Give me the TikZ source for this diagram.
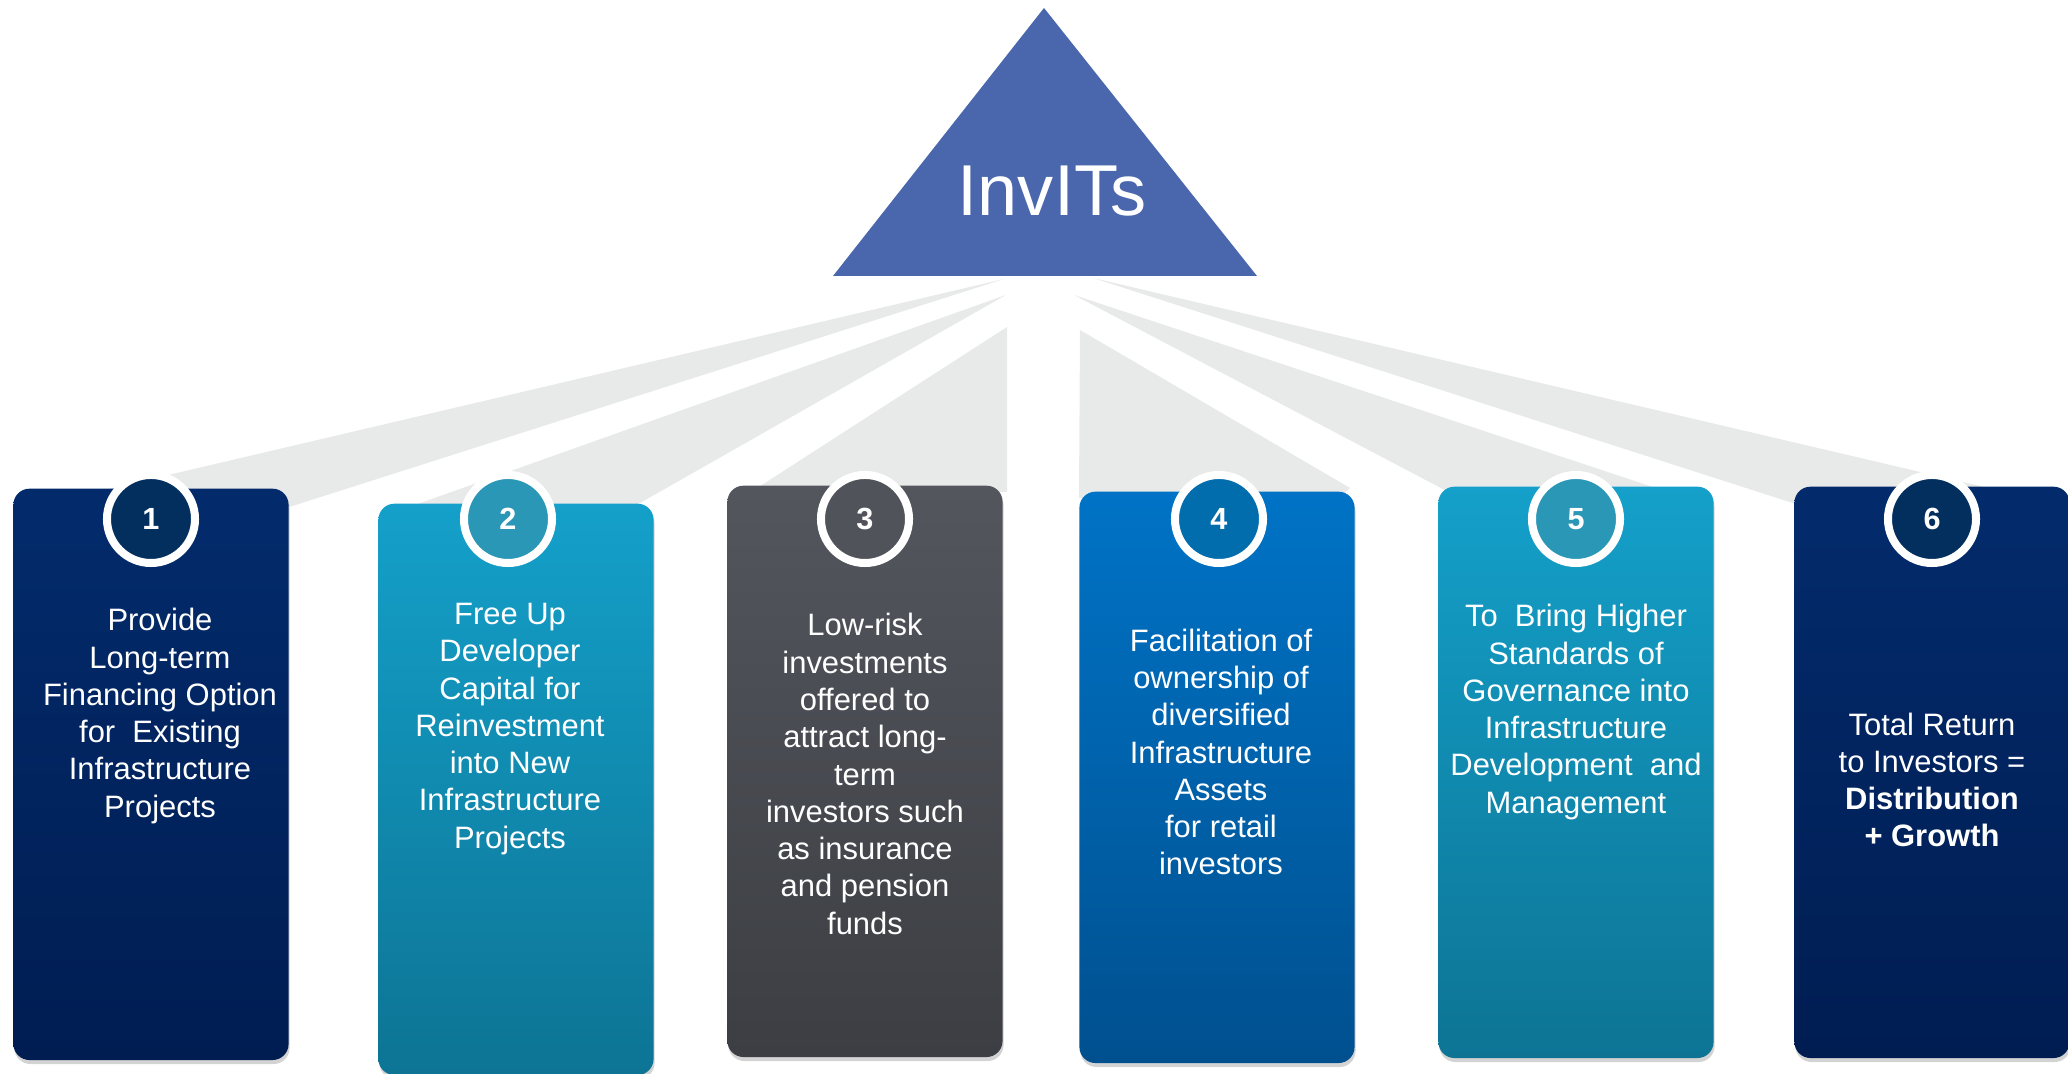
\documentclass[tikz,border=0pt]{standalone}
\usepackage{fontspec}
\setmainfont{Liberation Sans}
\usetikzlibrary{shadows}

\definecolor{raygrey}{HTML}{E8E9E9}
\definecolor{peakblue}{HTML}{4A67AD}
\definecolor{navytop}{HTML}{032B6C}
\definecolor{navybot}{HTML}{001D52}
\definecolor{tealtop}{HTML}{14A0CA}
\definecolor{tealbot}{HTML}{0D7494}
\definecolor{slatetop}{HTML}{53565D}
\definecolor{slatebot}{HTML}{3C3E43}
\definecolor{azuretop}{HTML}{0073C6}
\definecolor{azurebot}{HTML}{00508F}
\definecolor{navydisc}{HTML}{032F5F}
\definecolor{tealdisc}{HTML}{2A97B6}
\definecolor{slatedisc}{HTML}{50545A}
\definecolor{azuredisc}{HTML}{016DAD}

\begin{document}
\begin{tikzpicture}[x=0.01cm,y=-0.01cm,
 ray/.style={fill=raygrey,draw=none},
 card/.style={rounded corners=0.16cm,minimum width=2.75cm,minimum height=5.71cm,
  anchor=north,draw=none,
  drop shadow={shadow xshift=0.01cm,shadow yshift=-0.04cm,opacity=0.35}},
 badge/.style={circle,draw=white,line width=0.08cm,minimum size=0.88cm,
  text=white,font=\bfseries\fontsize{8.7}{10}\selectfont,
  drop shadow={shadow xshift=0.02cm,shadow yshift=-0.03cm,opacity=0.3}},
 blurb/.style={text=white,align=center,font=\fontsize{8.8}{10.6}\selectfont}]
 \useasboundingbox (0,0) rectangle (2068,1074);

 % grey beams fanning out under the triangle
 \fill[ray] (1004,279) -- (100,491) -- (280,510) -- cycle;
 \fill[ray] (1006,295) -- (398,511) -- (626,511) -- cycle;
 \fill[ray] (1007,327) -- (1007,492) -- (751,492) -- cycle;
 \fill[ray] (1080,330) -- (1350,488) -- (1340,498) -- (1079,498) -- cycle;
 \fill[ray] (1074,295) -- (1680,496) -- (1456,496) -- cycle;
 \fill[ray] (1093,278) -- (1997,490) -- (1805,507) -- cycle;

 % the InvITs triangle
 \coordinate (peak) at (1044,8);
 \coordinate (baseL) at (833,276);
 \coordinate (baseR) at (1257,276);
 \fill[peakblue] (peak) -- (baseR) -- (baseL) -- cycle;
 \node[text=white,font=\fontsize{20.5}{24}\selectfont] (invits) at (1052,191) {InvITs};

 % six cards
 \node[card,top color=navytop,bottom color=navybot] (box1) at (151,488) {};
 \node[card,top color=tealtop,bottom color=tealbot] (box2) at (516,503) {};
 \node[card,top color=slatetop,bottom color=slatebot] (box3) at (865,485) {};
 \node[card,top color=azuretop,bottom color=azurebot] (box4) at (1217,491) {};
 \node[card,top color=tealtop,bottom color=tealbot] (box5) at (1576,486) {};
 \node[card,top color=navytop,bottom color=navybot] (box6) at (1932,486) {};

 % numbered discs on the card tops
 \coordinate (discrow) at (0,519);
 \node[badge,fill=navydisc] (num1) at (box1.north |- discrow) {1};
 \node[badge,fill=tealdisc] (num2) at (508,519) {2};
 \node[badge,fill=slatedisc] (num3) at (box3.north |- discrow) {3};
 \node[badge,fill=azuredisc] (num4) at (1219,519) {4};
 \node[badge,fill=tealdisc] (num5) at (box5.north |- discrow) {5};
 \node[badge,fill=navydisc] (num6) at (box6.north |- discrow) {6};

 \node[blurb] (txt1) at (160,716) {Provide\\Long-term\\Financing Option\\for~ Existing\\Infrastructure\\Projects};
 \node[blurb] (txt2) at (510,729) {Free Up\\Developer\\Capital for\\Reinvestment\\into New\\Infrastructure\\Projects};
 \node[blurb] (txt3) at (865,774) {Low-risk\\investments\\offered to\\attract long-\\term\\investors such\\as insurance\\and pension\\funds};
 \node[blurb] (txt4) at (1221,752) {Facilitation of\\ownership of\\diversified\\Infrastructure\\Assets\\for retail\\investors};
 \node[blurb] (txt5) at (1576,712) {To~ Bring Higher\\Standards of\\Governance into\\Infrastructure\\Development~ and\\Management};
 \node[blurb] (txt6) at (1932,780) {Total Return\\to Investors =\\\textbf{Distribution}\\\textbf{+ Growth}};
\end{tikzpicture}
\end{document}
